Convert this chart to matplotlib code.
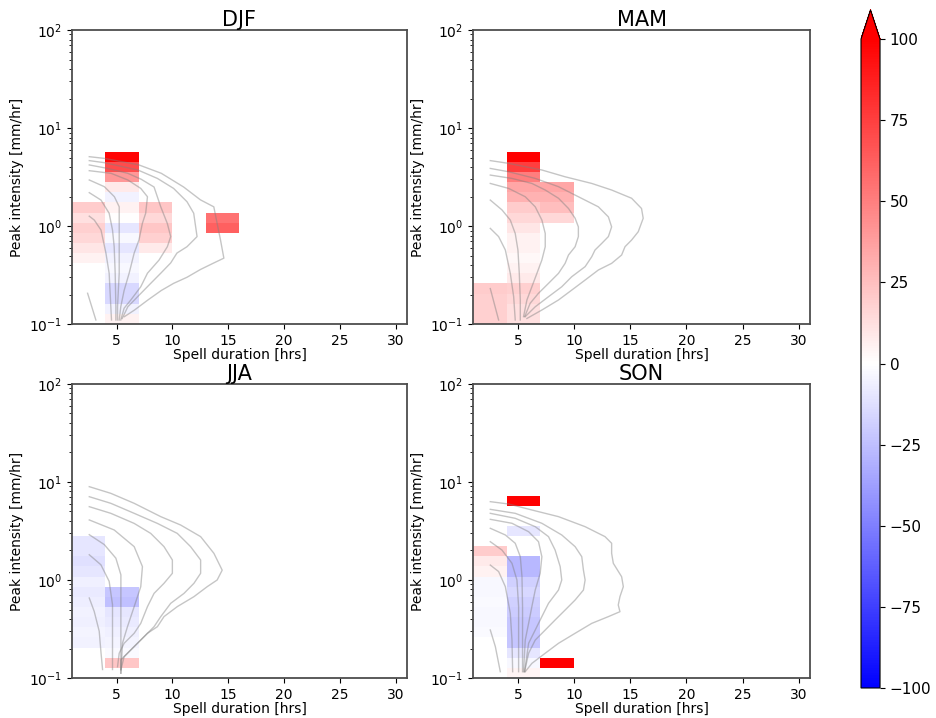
"""
Seasonal change in spell frequency by duration and peak intensity,
with the present-day distribution overlaid as grey contours.
"""

import matplotlib
matplotlib.use("Agg")
import matplotlib.pyplot as plt
import numpy as np


SEASONS = ["DJF", "MAM", "JJA", "SON"]

# duration bins (hrs) and log-spaced peak intensity bins (mm/hr)
DUR_EDGES = np.arange(1, 35, 3)
INT_EDGES = np.logspace(-1, 2, 30)

# % change per cell: {duration column: (first intensity bin, values going up)}
DJF_CELLS = {
    0: (6, [5, 10, 15, 18, 12, 20]),
    1: (0, [5, -5, -15, -15, -5, -3, -5, -10, -3, -10, 0, 5, -5, 8, 40, 70, 98]),
    2: (7, [8, 18, 22, 15, 22]),
    4: (9, [62, 55]),
}
MAM_CELLS = {
    0: (0, [18, 18, 18, 20]),
    1: (0, [12, 12, 15, 18, 8, 5, 3, 5, 5, 10, 15, 20, 30, 35, 50, 75, 100]),
    2: (10, [15, 25, 30, 35]),
}
JJA_CELLS = {
    0: (3, [-5, -4, -6, -5, -7, -8, -6, -10, -12, -10, -10]),
    1: (1, [22, -2, -4, -6, -8, -10, -25, -22]),
}
SON_CELLS = {
    0: (4, [-2, -3, -3, -2, -3, -3, 5, 8, 20]),
    1: (0, [4, -3, -10, -22, -22, -22, -20, -18, -15, -18, -28, -28,
            np.nan, np.nan, -10, np.nan, np.nan, 100]),
    2: (1, [100]),
}

# present-day frequency contours: (durations, peak intensities)
DJF_CONTOURS = [
    ([2.55, 3.9, 7.0, 9.0, 11.0, 12.5, 13.7, 14.0, 14.3, 14.6, 13.7, 12.5, 11.3, 10.1, 9.0, 7.8, 6.6, 5.7],
     [5.1, 4.9, 4.2, 3.45, 2.5, 1.85, 1.57, 1.06, 0.72, 0.47, 0.42, 0.36, 0.30, 0.26, 0.22, 0.176, 0.139, 0.119]),
    ([2.55, 3.9, 6.9, 8.65, 10.1, 11.3, 11.9, 12.2, 11.9, 11.3, 10.4, 9.84, 8.95, 8.05, 7.16, 6.0, 5.5],
     [4.65, 4.43, 3.73, 3.06, 2.42, 1.77, 1.35, 0.78, 0.72, 0.615, 0.53, 0.42, 0.33, 0.26, 0.205, 0.15, 0.114]),
    ([2.55, 4.2, 6.0, 7.2, 8.35, 8.95, 9.54, 9.84, 9.54, 8.8, 7.76, 7.16, 6.27, 5.67, 5.37],
     [4.2, 3.87, 3.45, 3.0, 2.5, 1.57, 1.06, 0.78, 0.615, 0.45, 0.33, 0.24, 0.176, 0.145, 0.11]),
    ([2.55, 4.5, 6.0, 7.16, 7.76, 7.6, 7.3, 7.0, 6.57, 6.12, 5.67, 5.37, 5.23],
     [3.67, 3.45, 2.95, 2.42, 1.99, 1.35, 1.06, 0.72, 0.53, 0.33, 0.22, 0.15, 0.11]),
    ([2.55, 3.9, 4.8, 5.23, 5.23, 5.23, 5.23, 5.08, 5.08],
     [2.95, 2.52, 1.99, 1.57, 1.15, 0.72, 0.33, 0.15, 0.11]),
    ([2.55, 3.6, 4.33, 4.63, 4.78, 4.87, 4.93, 4.93],
     [2.19, 1.84, 1.35, 0.91, 0.615, 0.33, 0.15, 0.11]),
    ([2.55, 3.0, 3.6, 4.04, 4.33, 4.48, 4.54],
     [1.26, 1.15, 0.91, 0.53, 0.33, 0.15, 0.11]),
    ([2.4, 3.14], [0.206, 0.11]),
]
MAM_CONTOURS = [
    ([2.54, 4.17, 7.13, 9.2, 11.57, 13.34, 15.12, 16.0, 16.15, 15.71, 15.12, 14.53, 14.23, 13.34, 12.16,
      10.98, 9.79, 8.61, 7.13, 5.8],
     [4.65, 4.36, 3.73, 3.18, 2.72, 2.33, 1.92, 1.51, 1.2, 0.875, 0.72, 0.615, 0.506, 0.416, 0.356,
      0.281, 0.222, 0.176, 0.139, 0.114]),
    ([2.54, 4.17, 6.54, 8.61, 10.38, 12.16, 13.05, 13.34, 13.05, 12.46, 11.86, 11.57, 10.98, 9.79, 8.9,
      7.72, 6.54, 5.65],
     [3.87, 3.58, 3.06, 2.52, 1.99, 1.57, 1.24, 0.98, 0.78, 0.665, 0.569, 0.486, 0.385, 0.304, 0.24,
      0.19, 0.15, 0.119]),
    ([2.54, 4.47, 6.24, 7.43, 8.61, 9.5, 10.09, 10.38, 10.38, 10.09, 9.5, 9.2, 8.61, 7.72, 6.83, 6.09, 5.6],
     [3.31, 3.06, 2.72, 2.33, 1.92, 1.51, 1.2, 0.98, 0.78, 0.615, 0.506, 0.416, 0.329, 0.26, 0.206, 0.163, 0.119]),
    ([2.54, 4.17, 5.65, 6.54, 7.13, 7.43, 7.43, 7.13, 6.69, 6.24, 5.8, 5.5],
     [2.72, 2.42, 1.99, 1.57, 1.15, 0.84, 0.615, 0.45, 0.329, 0.24, 0.176, 0.119]),
    ([2.54, 3.58, 4.32, 4.76, 5.0, 5.12, 5.21, 5.21],
     [1.84, 1.46, 1.15, 0.84, 0.569, 0.329, 0.176, 0.11]),
    ([2.54, 3.28, 3.88, 4.32, 4.62, 4.76],
     [0.946, 0.78, 0.569, 0.329, 0.19, 0.11]),
    ([2.54, 3.28], [0.23, 0.11]),
]
JJA_CONTOURS = [
    ([2.55, 4.48, 6.57, 8.95, 10.73, 12.52, 13.71, 14.45, 14.0, 13.11, 11.92, 10.43, 9.24, 8.65, 7.76,
      6.86, 5.97, 5.38, 5.38],
     [8.96, 7.66, 6.06, 4.43, 3.64, 2.77, 1.87, 1.26, 1.0, 0.855, 0.676, 0.535, 0.423, 0.334, 0.286,
      0.226, 0.179, 0.153, 0.112]),
    ([2.55, 4.48, 6.57, 8.65, 10.43, 11.62, 12.52, 12.52, 11.92, 11.03, 9.84, 8.95, 8.35, 7.46, 6.57, 5.67, 5.38],
     [7.08, 6.06, 4.79, 3.78, 2.99, 2.19, 1.6, 1.17, 0.925, 0.73, 0.578, 0.423, 0.334, 0.264, 0.209, 0.165, 0.121]),
    ([2.55, 4.48, 6.57, 8.05, 9.24, 9.99, 9.99, 9.24, 8.35, 7.76, 7.16, 6.57, 5.67, 5.23, 5.08],
     [5.6, 4.79, 3.78, 2.99, 2.19, 1.6, 1.17, 0.925, 0.73, 0.535, 0.361, 0.286, 0.226, 0.179, 0.13]),
    ([2.55, 4.78, 6.57, 7.31, 7.16, 6.57, 5.97, 5.52, 5.38],
     [4.1, 3.24, 2.19, 1.37, 0.855, 0.535, 0.334, 0.226, 0.112]),
    ([2.55, 3.89, 4.93, 5.38, 5.38, 5.38, 5.38],
     [2.9, 2.3, 1.67, 1.13, 0.56, 0.256, 0.122]),
    ([2.55, 3.59, 4.33, 4.63, 4.63, 4.63],
     [1.81, 1.43, 0.97, 0.56, 0.256, 0.122]),
    ([2.55, 2.99, 3.44, 3.59, 3.74],
     [0.655, 0.479, 0.3, 0.187, 0.122]),
]
SON_CONTOURS = [
    ([2.54, 4.17, 6.24, 8.61, 10.98, 12.75, 13.34, 13.34, 13.49, 14.23, 14.38, 14.08, 13.93, 14.08, 13.05,
      11.57, 10.09, 8.61, 7.43, 6.24, 5.65],
     [6.3, 5.96, 5.18, 4.43, 3.5, 2.77, 2.37, 1.87, 1.48, 1.08, 0.855, 0.676, 0.556, 0.475, 0.423,
      0.361, 0.286, 0.226, 0.179, 0.141, 0.116]),
    ([2.54, 4.76, 7.13, 8.9, 10.09, 10.68, 10.83, 10.98, 10.83, 10.09, 9.2, 8.31, 7.43, 6.54, 5.95, 5.59],
     [5.26, 4.79, 3.79, 2.88, 2.19, 1.73, 1.26, 1.0, 0.79, 0.625, 0.494, 0.391, 0.309, 0.244, 0.179, 0.116]),
    ([2.54, 4.76, 6.54, 7.72, 8.31, 8.76, 8.9, 8.61, 7.72, 7.13, 6.54, 5.95, 5.59],
     [4.79, 4.26, 3.5, 2.77, 2.02, 1.37, 1.0, 0.79, 0.578, 0.423, 0.309, 0.226, 0.116]),
    ([2.54, 4.47, 5.95, 6.83, 7.13, 6.98, 6.54, 6.24, 5.95, 5.65, 5.5],
     [4.16, 3.79, 3.11, 2.46, 1.73, 1.17, 0.79, 0.535, 0.361, 0.244, 0.116]),
    ([2.54, 3.88, 4.76, 5.21, 5.36, 5.41, 5.41, 5.41],
     [3.37, 2.88, 2.37, 1.73, 1.08, 0.535, 0.244, 0.116]),
    ([2.54, 3.58, 4.47, 4.91, 5.06, 5.06, 5.06],
     [2.46, 2.02, 1.48, 1.0, 0.535, 0.244, 0.116]),
    ([2.54, 3.28, 3.88, 4.32, 4.47, 4.53],
     [1.42, 1.22, 0.855, 0.457, 0.244, 0.116]),
    ([2.54, 2.99, 3.43], [0.309, 0.209, 0.116]),
]

CELLS = {"DJF": DJF_CELLS, "MAM": MAM_CELLS, "JJA": JJA_CELLS, "SON": SON_CELLS}
CONTOURS = {"DJF": DJF_CONTOURS, "MAM": MAM_CONTOURS, "JJA": JJA_CONTOURS, "SON": SON_CONTOURS}

CBAR_TICKS = [-100, -75, -50, -25, 0, 25, 50, 75, 100]
X_TICKS = [5, 10, 15, 20, 25, 30]


def build_grid(cells):
    grid = np.full((len(INT_EDGES) - 1, len(DUR_EDGES) - 1), np.nan)
    for col, (start, vals) in cells.items():
        grid[start:start + len(vals), col] = vals
    return np.ma.masked_invalid(grid)


def main():
    plt.rcParams["font.size"] = 10
    fig = plt.figure(figsize=(9.37, 7.18), dpi=100)

    positions = {
        "DJF": [0.0768, 0.5487, 0.3576, 0.4095],
        "MAM": [0.5048, 0.5487, 0.3597, 0.4095],
        "JJA": [0.0768, 0.0557, 0.3576, 0.4095],
        "SON": [0.5048, 0.0557, 0.3597, 0.4095],
    }

    mesh = None
    for season in SEASONS:
        ax = fig.add_axes(positions[season])
        grid = build_grid(CELLS[season])
        mesh = ax.pcolormesh(DUR_EDGES, INT_EDGES, grid, cmap="bwr", vmin=-100, vmax=100)
        for dur, inten in CONTOURS[season]:
            ax.plot(dur, inten, color="grey", lw=1.0, alpha=0.45)
        ax.set_yscale("log")
        ax.set_xlim(1, 31)
        ax.set_ylim(0.1, 100)
        ax.set_xticks(X_TICKS)
        ax.set_xlabel("Spell duration [hrs]", labelpad=0)
        ax.set_ylabel("Peak intensity [mm/hr]")
        ax.set_title(season, fontsize=15, pad=1)
        for spine in ax.spines.values():
            spine.set_color("0.3")
            spine.set_linewidth(1.3)

    cax = fig.add_axes([0.9189, 0.0418, 0.0203, 0.9445])
    cbar = fig.colorbar(mesh, cax=cax, extend="max", extendfrac=0.045, ticks=CBAR_TICKS)
    cbar.ax.tick_params(labelsize=11)

    fig.savefig("out.png", dpi=100)
    plt.close(fig)


if __name__ == "__main__":
    main()
